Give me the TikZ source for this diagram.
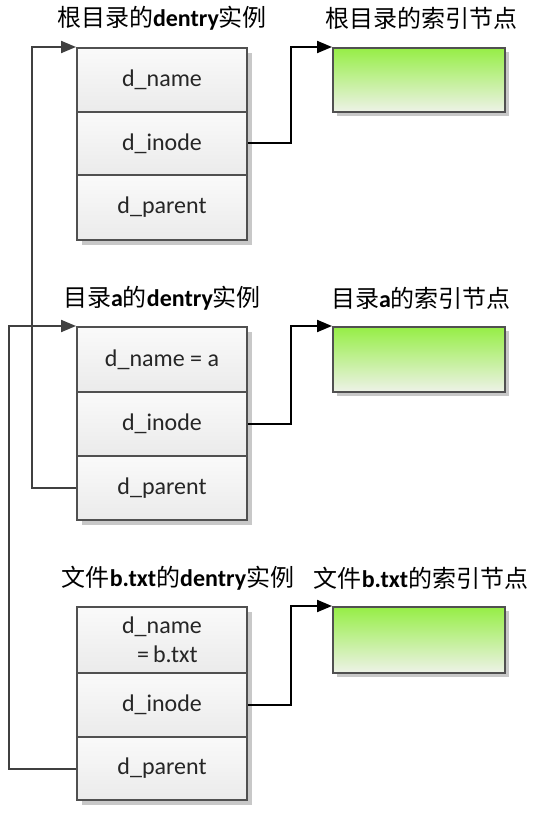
\documentclass[tikz,border=0pt]{standalone}
\usepackage{fontspec}
\setmainfont{Carlito}
\newfontfamily\cjk{Noto Sans CJK SC}
\usetikzlibrary{arrows.meta}
\definecolor{edgegray}{RGB}{80,80,80}
\definecolor{linegray}{RGB}{64,64,64}
\definecolor{gtop}{RGB}{150,238,70}
\definecolor{gbot}{RGB}{238,242,232}
\definecolor{shadowgray}{RGB}{200,200,200}
\newcommand{\zh}[1]{{\cjk #1}}
\tikzset{
  cell/.style={draw=edgegray, line width=2pt, top color=gray!4, bottom color=gray!16,
    minimum width=170pt, inner sep=0pt, align=center, text=black!85,
    font=\fontsize{24}{29}\selectfont},
  inode/.style={draw=edgegray, line width=2pt, top color=gtop, bottom color=gbot,
    minimum width=172pt, inner sep=0pt},
  title/.style={inner sep=0pt, font=\fontsize{24}{29}\selectfont},
  shadowbox/.style={fill=shadowgray},
  parentlink/.style={draw=linegray, line width=2pt, -{Triangle[length=15pt,width=12pt]}},
  inodelink/.style={draw=black, line width=2pt, -{Triangle[length=15pt,width=12pt]}}
}
\begin{document}
\begin{tikzpicture}[x=1pt,y=-1pt]
\useasboundingbox[fill=white] (0,0) rectangle (548,818);
% shadows
\fill[shadowgray] (82,53) rectangle (252,245);
\fill[shadowgray] (82,332) rectangle (252,525);
\fill[shadowgray] (82,612) rectangle (252,805);
\fill[shadowgray] (337,52) rectangle (509,116);
\fill[shadowgray] (337,331) rectangle (509,396);
\fill[shadowgray] (337,611) rectangle (509,677);
% titles
\node[title] (t1) at (162,18) {\zh{根目录的}\textbf{dentry}\zh{实例}};
\node[title] (t2) at (421,18) {\zh{根目录的索引节点}};
\node[title] (t3) at (162,298) {\zh{目录}\textbf{a}\zh{的}\textbf{dentry}\zh{实例}};
\node[title] (t4) at (421,298) {\zh{目录}\textbf{a}\zh{的索引节点}};
\node[title] (t5) at (178,578) {\zh{文件}\textbf{b.txt}\zh{的}\textbf{dentry}\zh{实例}};
\node[title] (t6) at (421,578) {\zh{文件}\textbf{b.txt}\zh{的索引节点}};
% dentry 1
\node[cell, minimum height=64pt] (c1n) at (162,80) {d\_name};
\node[cell, minimum height=63pt] (c1i) at (162,143.5) {d\_inode};
\node[cell, minimum height=65pt] (c1p) at (162,207.5) {d\_parent};
% dentry 2
\node[cell, minimum height=65pt] (c2n) at (162,359.5) {d\_name = a};
\node[cell, minimum height=64pt] (c2i) at (162,424) {d\_inode};
\node[cell, minimum height=64pt] (c2p) at (162,488) {d\_parent};
% dentry 3
\node[cell, minimum height=66pt] (c3n) at (162,640) {d\_name\\\ \ =\,b.txt};
\node[cell, minimum height=64pt] (c3i) at (162,705) {d\_inode};
\node[cell, minimum height=63pt] (c3p) at (162,768.5) {d\_parent};
% inodes
\node[inode, minimum height=64pt] (g1) at (419,80) {};
\node[inode, minimum height=65pt] (g2) at (419,359.5) {};
\node[inode, minimum height=66pt] (g3) at (419,640) {};
% inode links
\draw[inodelink] (c1i.east) -- ++(43,0) |- (g1.north west);
\draw[inodelink] (c2i.east) -- ++(43,0) |- (g2.north west);
\draw[inodelink] (c3i.east) -- ++(43,0) |- (g3.north west);
% parent links
\draw[parentlink] (c2p.west) -- ++(-44,0) |- (c1n.north west);
\draw[parentlink] (c3p.west) -- ++(-67,0) |- (c2n.north west);
\end{tikzpicture}
\end{document}
